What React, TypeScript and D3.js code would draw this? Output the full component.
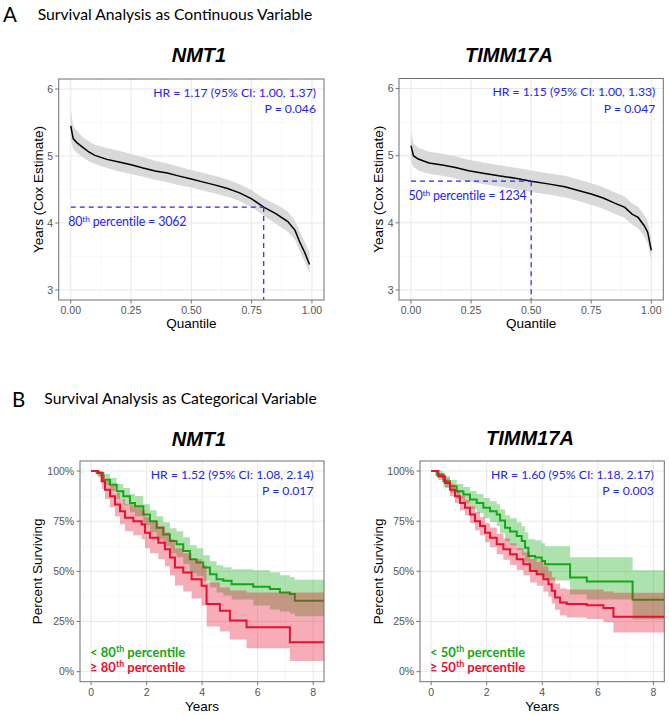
import React from 'react';
import * as d3 from 'd3';

// ---- Cox model estimates across expression quantile ----
const nmt1Quantile = [0, 0.01, 0.025, 0.05, 0.075, 0.1, 0.15, 0.2, 0.25, 0.3, 0.35, 0.4, 0.45, 0.5, 0.55, 0.6, 0.65, 0.7, 0.75, 0.8, 0.85, 0.9, 0.93, 0.95, 0.97, 0.99];
const nmt1Estimate = [5.45, 5.26, 5.2, 5.13, 5.06, 5.01, 4.95, 4.91, 4.87, 4.82, 4.775, 4.745, 4.7, 4.657, 4.61, 4.565, 4.515, 4.45, 4.36, 4.237, 4.14, 4.02, 3.89, 3.71, 3.56, 3.38];
const nmt1Lower = [5.25, 5.1, 5.05, 4.98, 4.92, 4.88, 4.82, 4.77, 4.73, 4.69, 4.645, 4.61, 4.565, 4.53, 4.48, 4.44, 4.39, 4.33, 4.24, 4.11, 3.99, 3.87, 3.75, 3.57, 3.42, 3.25];
const nmt1Upper = [5.7, 5.45, 5.38, 5.28, 5.22, 5.17, 5.12, 5.08, 5.03, 4.98, 4.93, 4.89, 4.84, 4.79, 4.745, 4.7, 4.65, 4.58, 4.49, 4.37, 4.28, 4.17, 4.03, 3.87, 3.72, 3.55];

const timmQuantile = [0, 0.01, 0.03, 0.075, 0.13, 0.185, 0.24, 0.3, 0.365, 0.435, 0.5, 0.57, 0.64, 0.7, 0.75, 0.8, 0.85, 0.89, 0.92, 0.945, 0.97, 0.985, 1.0];
const timmEstimate = [5.15, 5.0, 4.95, 4.89, 4.86, 4.825, 4.775, 4.74, 4.7, 4.665, 4.62, 4.58, 4.537, 4.478, 4.43, 4.37, 4.29, 4.23, 4.13, 4.08, 3.96, 3.86, 3.59];
const timmLower = [4.92, 4.83, 4.78, 4.73, 4.7, 4.66, 4.61, 4.58, 4.54, 4.5, 4.46, 4.42, 4.38, 4.32, 4.27, 4.21, 4.13, 4.07, 3.97, 3.92, 3.8, 3.7, 3.43];
const timmUpper = [5.38, 5.18, 5.12, 5.06, 5.03, 4.99, 4.94, 4.9, 4.86, 4.82, 4.78, 4.74, 4.7, 4.64, 4.59, 4.53, 4.45, 4.39, 4.29, 4.24, 4.12, 4.02, 3.75];

// ---- Kaplan-Meier curves (percent surviving) ----
const nmt1LowTime = [0, 0.2, 0.44, 0.68, 0.92, 1.16, 1.4, 1.58, 1.88, 2.12, 2.36, 2.6, 2.84, 3.08, 3.32, 3.56, 3.8, 4.04, 4.28, 4.52, 4.76, 5.06, 5.84, 6.44, 6.8, 7.16, 7.34];
const nmt1LowSurv = [100, 99, 95.7, 93.2, 89.9, 87.4, 84.1, 82.5, 78.3, 75, 71.7, 68.4, 65.1, 63.5, 60.2, 56, 54.4, 51.9, 48.6, 46.1, 45.3, 43.6, 42.3, 41.2, 39.5, 38.7, 35.4];
const nmt1LowLower = [100, 97.5, 93, 90, 86, 83, 79.5, 77.5, 73, 69.5, 66, 62.5, 59, 57, 53.5, 49, 47.5, 45, 42, 39.5, 38, 36, 33, 31, 30, 29, 27.6];
const nmt1LowUpper = [100, 100, 98.5, 96.5, 93.5, 91.5, 88.5, 87.5, 83.5, 80.5, 77.5, 74.5, 71.5, 70, 67, 63, 61.5, 58, 55, 53, 52, 51, 50.5, 49.5, 48, 47, 45.8];

const nmt1HighTime = [0, 0.26, 0.38, 0.5, 0.68, 0.86, 1.04, 1.22, 1.52, 1.82, 1.94, 2.12, 2.42, 2.66, 2.84, 3.02, 3.32, 3.62, 3.98, 4.16, 4.64, 5.0, 5.6, 7.16];
const nmt1HighSurv = [100, 99, 94.9, 90.7, 87.4, 83.3, 80, 76.7, 75, 73.4, 69.3, 66.8, 64.3, 61, 56.9, 51.9, 49.4, 46.1, 42.8, 33.7, 30.4, 25.5, 22.1, 14.7];
const nmt1HighLower = [100, 97, 91, 86, 82, 77.5, 73.5, 70, 68, 66, 61.5, 59, 56, 52.5, 48, 43, 40, 36.5, 33, 22.5, 20, 16, 11.7, 5.3];
const nmt1HighUpper = [100, 100, 98, 95, 92.5, 89, 86, 83.5, 82, 80.5, 77, 75, 72.5, 69.5, 66, 61.5, 59, 56, 53, 44.5, 42, 40.5, 39.5, 39.5];

const timmLowTime = [0, 0.2, 0.44, 0.68, 0.92, 1.16, 1.4, 1.64, 1.88, 2.12, 2.36, 2.48, 2.66, 2.84, 3.08, 3.26, 3.38, 3.5, 3.74, 3.98, 4.1, 5.0, 5.6, 7.25];
const timmLowSurv = [100, 98.2, 94.9, 92.4, 89.9, 88.3, 85.8, 84.1, 81.7, 80, 78.3, 75.4, 71.7, 69.8, 67.6, 65.1, 61.8, 57.7, 56.9, 55.2, 53.6, 46.9, 45, 35.8];
const timmLowLower = [100, 96.5, 92, 89, 86, 84, 81, 79, 76.5, 74.5, 72.5, 69, 65, 63, 60.5, 58, 54.5, 50, 49, 47, 45.5, 38.5, 36, 26.1];
const timmLowUpper = [100, 100, 97.5, 95.5, 93.5, 92, 90, 88.5, 86.5, 85, 83.5, 81, 78, 76.5, 74.5, 72.5, 69.5, 66, 65.5, 64, 62.5, 57, 57, 50.6];

const timmHighTime = [0, 0.26, 0.5, 0.68, 0.86, 1.04, 1.22, 1.4, 1.58, 1.76, 1.94, 2.12, 2.36, 2.6, 2.84, 3.08, 3.32, 3.56, 3.8, 4.04, 4.22, 4.34, 4.46, 4.64, 4.88, 5.6, 6.2, 6.56];
const timmHighSurv = [100, 97.4, 94, 90.7, 87.4, 84.1, 81.7, 78.3, 75, 72.6, 69.3, 66.8, 63.5, 61, 58.5, 56, 53.6, 50.2, 48.6, 46.1, 43.6, 40.3, 37, 34.5, 33.7, 33.1, 31.7, 27.4];
const timmHighLower = [100, 95.5, 91.5, 87.5, 84, 80.5, 78, 74, 70.5, 68, 64.5, 62, 58.5, 55.8, 53.2, 50.5, 48, 44.5, 42.8, 40, 37.5, 34, 30.8, 28, 27, 26.2, 24.6, 19.5];
const timmHighUpper = [100, 99, 96.5, 93.5, 90.5, 87.5, 85.5, 82.5, 79.5, 77, 74, 71.8, 68.8, 66.4, 64, 61.6, 59.4, 56.2, 54.8, 52.5, 50, 47, 44, 41.5, 41, 41, 40, 39.3];

// axis ticks
const quantileTicks = [0, 0.25, 0.5, 0.75, 1];
const yearsCoxTicks = [3, 4, 5, 6];
const yearTicks = [0, 2, 4, 6, 8];
const percentTicks = [0, 25, 50, 75, 100];

const FONT_TEXT = "Lato, 'Open Sans', sans-serif";
const FONT_AXIS = "'Liberation Sans', Arial, sans-serif";
const BLUE = '#2424f2';
const GREEN = '#14a814';
const RED = '#e8102e';

type Box = { left: number; top: number; right: number; bottom: number };

// "80th" style ordinal with a raised suffix
function Ordinal({ n, rest }: { n: number; rest: string }) {
  return (
    <>
      <tspan>{n}</tspan>
      <tspan dy={-4.5} fontSize="0.68em">th</tspan>
      <tspan dy={4.5}>{rest}</tspan>
    </>
  );
}

function Frame({ box, x, y, xMajor, yMajor, xFmt, yFmt, labelOffset }: any) {
  const xs = xMajor;
  const xMinor = xs.slice(1).map((v: number, i: number) => (v + xs[i]) / 2);
  const yMinor = yMajor.slice(1).map((v: number, i: number) => (v + yMajor[i]) / 2);
  return (
    <g>
      <rect x={box.left} y={box.top} width={box.right - box.left} height={box.bottom - box.top} fill="#fff" />
      {xMinor.map((v: number) => (
        <line key={'xm' + v} x1={x(v)} x2={x(v)} y1={box.top} y2={box.bottom} stroke="#f3f3f3" strokeWidth={0.6} />
      ))}
      {yMinor.map((v: number) => (
        <line key={'ym' + v} y1={y(v)} y2={y(v)} x1={box.left} x2={box.right} stroke="#f3f3f3" strokeWidth={0.6} />
      ))}
      {xs.map((v: number) => (
        <line key={'x' + v} x1={x(v)} x2={x(v)} y1={box.top} y2={box.bottom} stroke="#e8e8e8" strokeWidth={1} />
      ))}
      {yMajor.map((v: number) => (
        <line key={'y' + v} y1={y(v)} y2={y(v)} x1={box.left} x2={box.right} stroke="#e8e8e8" strokeWidth={1} />
      ))}
      {/* ticks and labels */}
      {xs.map((v: number) => (
        <g key={'xt' + v}>
          <line x1={x(v)} x2={x(v)} y1={box.bottom} y2={box.bottom + 3.5} stroke="#555" strokeWidth={0.8} />
          <text x={x(v)} y={box.bottom + 14} textAnchor="middle" fontFamily={FONT_AXIS} fontSize={10.5} fill="#555">
            {xFmt(v)}
          </text>
        </g>
      ))}
      {yMajor.map((v: number) => (
        <g key={'yt' + v}>
          <line x1={box.left - 3.5} x2={box.left} y1={y(v)} y2={y(v)} stroke="#555" strokeWidth={0.8} />
          <text x={box.left - labelOffset} y={y(v) + 3.7} textAnchor="end" fontFamily={FONT_AXIS} fontSize={10.5} fill="#555">
            {yFmt(v)}
          </text>
        </g>
      ))}
    </g>
  );
}

function Border({ box }: { box: Box }) {
  return (
    <rect x={box.left} y={box.top} width={box.right - box.left} height={box.bottom - box.top}
      fill="none" stroke="#707070" strokeWidth={1} />
  );
}

function HrNote({ right, top, hr, p }: any) {
  return (
    <g fontFamily={FONT_TEXT} fontSize={12.2} fill={BLUE} textAnchor="end">
      <text x={right} y={top}>{hr}</text>
      <text x={right} y={top + 16.5}>{p}</text>
    </g>
  );
}

function CoxPanel({ id, box, quant, est, lo, hi, cutoff, pct, cutLabel, hr, p, yTitleX }: any) {
  const x = d3.scaleLinear().domain([-0.05, 1.05]).range([box.left, box.right]);
  const y = d3.scaleLinear().domain([2.85, 6.15]).range([box.bottom, box.top]);
  const rows = quant.map((q: number, i: number) => ({ q, e: est[i], lo: lo[i], hi: hi[i] }));
  const band = d3.area<any>().x((d) => x(d.q)).y0((d) => y(d.lo)).y1((d) => y(d.hi))(rows) as string;
  const line = d3.line<any>().x((d) => x(d.q)).y((d) => y(d.e))(rows) as string;
  const cutEst = d3.scaleLinear().domain(quant).range(est)(cutoff);
  const cx = x(cutoff);
  const cy = y(cutEst);
  return (
    <g>
      <Frame box={box} x={x} y={y} xMajor={quantileTicks} yMajor={yearsCoxTicks}
        xFmt={(v: number) => v.toFixed(2)} yFmt={(v: number) => String(v)} labelOffset={5.5} />
      <clipPath id={id}>
        <rect x={box.left} y={box.top} width={box.right - box.left} height={box.bottom - box.top} />
      </clipPath>
      <g clipPath={`url(#${id})`}>
        <path d={band} fill="#d9d9d9" />
        <path d={line} fill="none" stroke="#000" strokeWidth={1.5} />
        <line x1={x(0)} x2={cx} y1={cy} y2={cy} stroke={BLUE} strokeWidth={1.2} strokeDasharray="5,4" />
        <line x1={cx} x2={cx} y1={cy} y2={box.bottom} stroke={BLUE} strokeWidth={1.2} strokeDasharray="5,4" />
      </g>
      <text x={x(0) - 2.5} y={cy + 19} fontFamily={FONT_TEXT} fontSize={12.4} letterSpacing={-0.15} fill={BLUE}>
        <Ordinal n={pct} rest={` percentile = ${cutLabel}`} />
      </text>
      <HrNote right={box.right - 8} top={box.top + 17.5} hr={hr} p={p} />
      <Border box={box} />
      <text x={(box.left + box.right) / 2} y={box.bottom + 27.5} textAnchor="middle" fontFamily={FONT_AXIS} fontSize={13.5}>
        Quantile
      </text>
      <text transform={`translate(${yTitleX},${(box.top + box.bottom) / 2}) rotate(-90)`} textAnchor="middle"
        fontFamily={FONT_AXIS} fontSize={13.5}>
        Years (Cox Estimate)
      </text>
    </g>
  );
}

function kmRows(time: number[], surv: number[], lower: number[], upper: number[], end: number) {
  const rows = time.map((t, i) => ({ t, s: surv[i], lo: lower[i], hi: upper[i] }));
  const last = rows[rows.length - 1];
  rows.push({ ...last, t: end });
  return rows;
}

function KMPanel({ id, box, low, high, pct, hr, p, yTitleX }: any) {
  const x = d3.scaleLinear().domain([-0.4, 8.39]).range([box.left, box.right]);
  const y = d3.scaleLinear().domain([-5, 105]).range([box.bottom, box.top]);
  const area = d3.area<any>().curve(d3.curveStepAfter).x((d) => x(d.t)).y0((d) => y(d.lo)).y1((d) => y(d.hi));
  const line = d3.line<any>().curve(d3.curveStepAfter).x((d) => x(d.t)).y((d) => y(d.s));
  const lowRows = kmRows(low.time, low.surv, low.lower, low.upper, 9);
  const highRows = kmRows(high.time, high.surv, high.lower, high.upper, 9);
  return (
    <g>
      <Frame box={box} x={x} y={y} xMajor={yearTicks} yMajor={percentTicks}
        xFmt={(v: number) => String(v)} yFmt={(v: number) => `${v}%`} labelOffset={5.8} />
      <clipPath id={id}>
        <rect x={box.left} y={box.top} width={box.right - box.left} height={box.bottom - box.top} />
      </clipPath>
      <g clipPath={`url(#${id})`}>
        <path d={area(lowRows) as string} fill={GREEN} fillOpacity={0.35} />
        <path d={line(lowRows) as string} fill="none" stroke={GREEN} strokeWidth={2} />
        <path d={area(highRows) as string} fill={RED} fillOpacity={0.34} />
        <path d={line(highRows) as string} fill="none" stroke={RED} strokeWidth={2} />
      </g>
      <HrNote right={box.right - 10.5} top={box.top + 17.5} hr={hr} p={p} />
      <g fontFamily={FONT_TEXT} fontSize={13} fontWeight="bold">
        <text x={x(0) - 1} y={box.bottom - 25} fill={GREEN}>
          <tspan>{'< '}</tspan>
          <Ordinal n={pct} rest=" percentile" />
        </text>
        <text x={x(0) - 1} y={box.bottom - 10} fill={RED}>
          <tspan>{'\u2265 '}</tspan>
          <Ordinal n={pct} rest=" percentile" />
        </text>
      </g>
      <Border box={box} />
      <text x={(box.left + box.right) / 2} y={box.bottom + 29} textAnchor="middle" fontFamily={FONT_AXIS} fontSize={13.5}>
        Years
      </text>
      <text transform={`translate(${yTitleX},${(box.top + box.bottom) / 2}) rotate(-90)`} textAnchor="middle"
        fontFamily={FONT_AXIS} fontSize={13.5}>
        Percent Surviving
      </text>
    </g>
  );
}

function GeneTitle({ x, y, name }: { x: number; y: number; name: string }) {
  return (
    <text x={x} y={y} textAnchor="middle" fontFamily={FONT_AXIS} fontSize={20} fontWeight="bold" fontStyle="italic">
      {name}
    </text>
  );
}

export default function App() {
  const coxLeft: Box = { left: 58.7, top: 79, right: 324, bottom: 300 };
  const coxRight: Box = { left: 399, top: 78.5, right: 663.3, bottom: 300 };
  const kmLeft: Box = { left: 80, top: 461, right: 324, bottom: 681.7 };
  const kmRight: Box = { left: 420, top: 461, right: 664.3, bottom: 681.7 };

  return (
    <svg width={669} height={715} style={{ position: 'absolute', left: 0, top: 0, background: '#fff' }}>
      <text x={3} y={21.7} fontFamily={FONT_TEXT} fontSize={20.5}>A</text>
      <text x={37.7} y={20} fontFamily={FONT_TEXT} fontSize={15.7}>Survival Analysis as Continuous Variable</text>
      <text x={12} y={406.5} fontFamily={FONT_TEXT} fontSize={20.5}>B</text>
      <text x={44.3} y={404} fontFamily={FONT_TEXT} fontSize={15.7}>Survival Analysis as Categorical Variable</text>

      <GeneTitle x={199} y={62} name="NMT1" />
      <GeneTitle x={509} y={62} name="TIMM17A" />
      <GeneTitle x={199} y={445.5} name="NMT1" />
      <GeneTitle x={530} y={445} name="TIMM17A" />

      <CoxPanel id="cox-nmt1" box={coxLeft} quant={nmt1Quantile} est={nmt1Estimate} lo={nmt1Lower} hi={nmt1Upper}
        cutoff={0.8} pct={80} cutLabel="3062" hr="HR = 1.17 (95% CI: 1.00, 1.37)" p="P = 0.046" yTitleX={43} />
      <CoxPanel id="cox-timm" box={coxRight} quant={timmQuantile} est={timmEstimate} lo={timmLower} hi={timmUpper}
        cutoff={0.5} pct={50} cutLabel="1234" hr="HR = 1.15 (95% CI: 1.00, 1.33)" p="P = 0.047" yTitleX={383} />

      <KMPanel id="km-nmt1" box={kmLeft} pct={80}
        low={{ time: nmt1LowTime, surv: nmt1LowSurv, lower: nmt1LowLower, upper: nmt1LowUpper }}
        high={{ time: nmt1HighTime, surv: nmt1HighSurv, lower: nmt1HighLower, upper: nmt1HighUpper }}
        hr="HR = 1.52 (95% CI: 1.08, 2.14)" p="P = 0.017" yTitleX={41.5} />
      <KMPanel id="km-timm" box={kmRight} pct={50}
        low={{ time: timmLowTime, surv: timmLowSurv, lower: timmLowLower, upper: timmLowUpper }}
        high={{ time: timmHighTime, surv: timmHighSurv, lower: timmHighLower, upper: timmHighUpper }}
        hr="HR = 1.60 (95% CI: 1.18, 2.17)" p="P = 0.003" yTitleX={383} />
    </svg>
  );
}
